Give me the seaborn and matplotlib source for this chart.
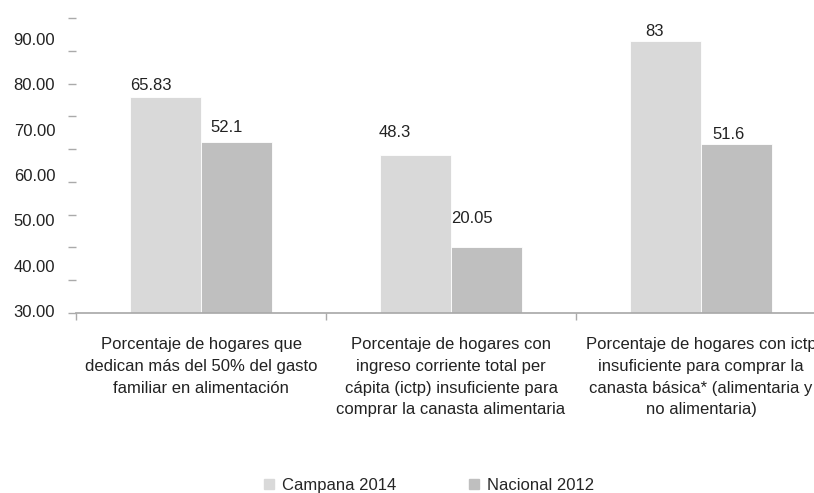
import matplotlib

matplotlib.use("Agg")
import matplotlib.pyplot as plt
import pandas as pd
import seaborn as sns

categorias = [
    "Porcentaje de hogares que\ndedican más del 50% del gasto\nfamiliar en alimentación",
    "Porcentaje de hogares con\ningreso corriente total per\ncápita (ictp) insuficiente para\ncomprar la canasta alimentaria",
    "Porcentaje de hogares con ictp\ninsuficiente para comprar la\ncanasta básica* (alimentaria y\nno alimentaria)",
]
series = ["Campana 2014", "Nacional 2012"]
campana_2014 = [65.83, 48.3, 83]
nacional_2012 = [52.1, 20.05, 51.6]
etiquetas = [["65.83", "48.3", "83"], ["52.1", "20.05", "51.6"]]
eje_y_etiquetas = [30, 40, 50, 60, 70, 80, 90]

df = pd.DataFrame({
    "categoria": categorias * 2,
    "serie": [series[0]] * 3 + [series[1]] * 3,
    "valor": campana_2014 + nacional_2012,
})

sns.set_theme(style="white")
plt.rcParams["font.family"] = ["Liberation Sans", "DejaVu Sans"]

fig = plt.figure(figsize=(8.14, 4.93), dpi=100)
ax = fig.add_axes([0.0934, 0.3651, 0.9214, 0.5984])

sns.barplot(data=df, x="categoria", y="valor", hue="serie", order=categorias,
            hue_order=series, palette=["#d9d9d9", "#bfbfbf"], width=0.57,
            saturation=1, edgecolor="white", linewidth=0.6, ax=ax)
ax.legend_.remove()

# value labels (offsets in points, as placed in the original)
offsets = [[(0, 8.6), (-0.7, 15.8), (10.8, 6.5)],
           [(6.5, 10.8), (0, 20.9), (7.9, 6.5)]]
for h, cont in enumerate(ax.containers):
    for c, bar in enumerate(cont):
        dx, dy = offsets[h][c]
        ax.annotate(etiquetas[h][c], xy=(bar.get_x(), bar.get_height()),
                    xytext=(dx, dy), textcoords="offset points",
                    ha="left", va="center", fontsize=12, color="#222222")

ax.set_xlim(-0.5, 2.5)
ax.set_ylim(0, 90)
ax.set_yticks(range(0, 91, 10))
ax.set_yticklabels([])
ax.tick_params(axis="y", left=True, length=6, width=1, color="#aaaaaa")
ax.set_xticks(range(3))
ax.set_xticklabels(categorias, fontsize=12, color="#222222", linespacing=1.56)
ax.set_xticks([-0.5, 0.5, 1.5, 2.5], minor=True)
ax.tick_params(axis="x", which="major", length=0, pad=17.5)
ax.tick_params(axis="x", which="minor", bottom=True, length=5, width=1, color="#aaaaaa")
ax.set_xlabel("")
ax.set_ylabel("")
for s in ["left", "top", "right"]:
    ax.spines[s].set_visible(False)
ax.spines["bottom"].set_color("#aaaaaa")

# printed value scale (as in the source chart)
ax2 = ax.twinx()
ax2.set_ylim(29.56, 94.63)
ax2.set_yticks(eje_y_etiquetas)
ax2.set_yticklabels([f"{v:.2f}" for v in eje_y_etiquetas], fontsize=12, color="#222222")
ax2.yaxis.tick_left()
ax2.tick_params(axis="y", length=0, pad=15)
for s in ax2.spines.values():
    s.set_visible(False)
ax2.grid(False)

handles = [plt.Rectangle((0, 0), 1, 1, color=c) for c in ["#d9d9d9", "#bfbfbf"]]
fig.legend(handles, series, loc="lower center", bbox_to_anchor=(0.527, -0.03),
           ncol=2, frameon=False, fontsize=12, handlelength=0.6, handleheight=0.6,
           handletextpad=0.45, columnspacing=4.4)

fig.savefig("out.png", dpi=100)
